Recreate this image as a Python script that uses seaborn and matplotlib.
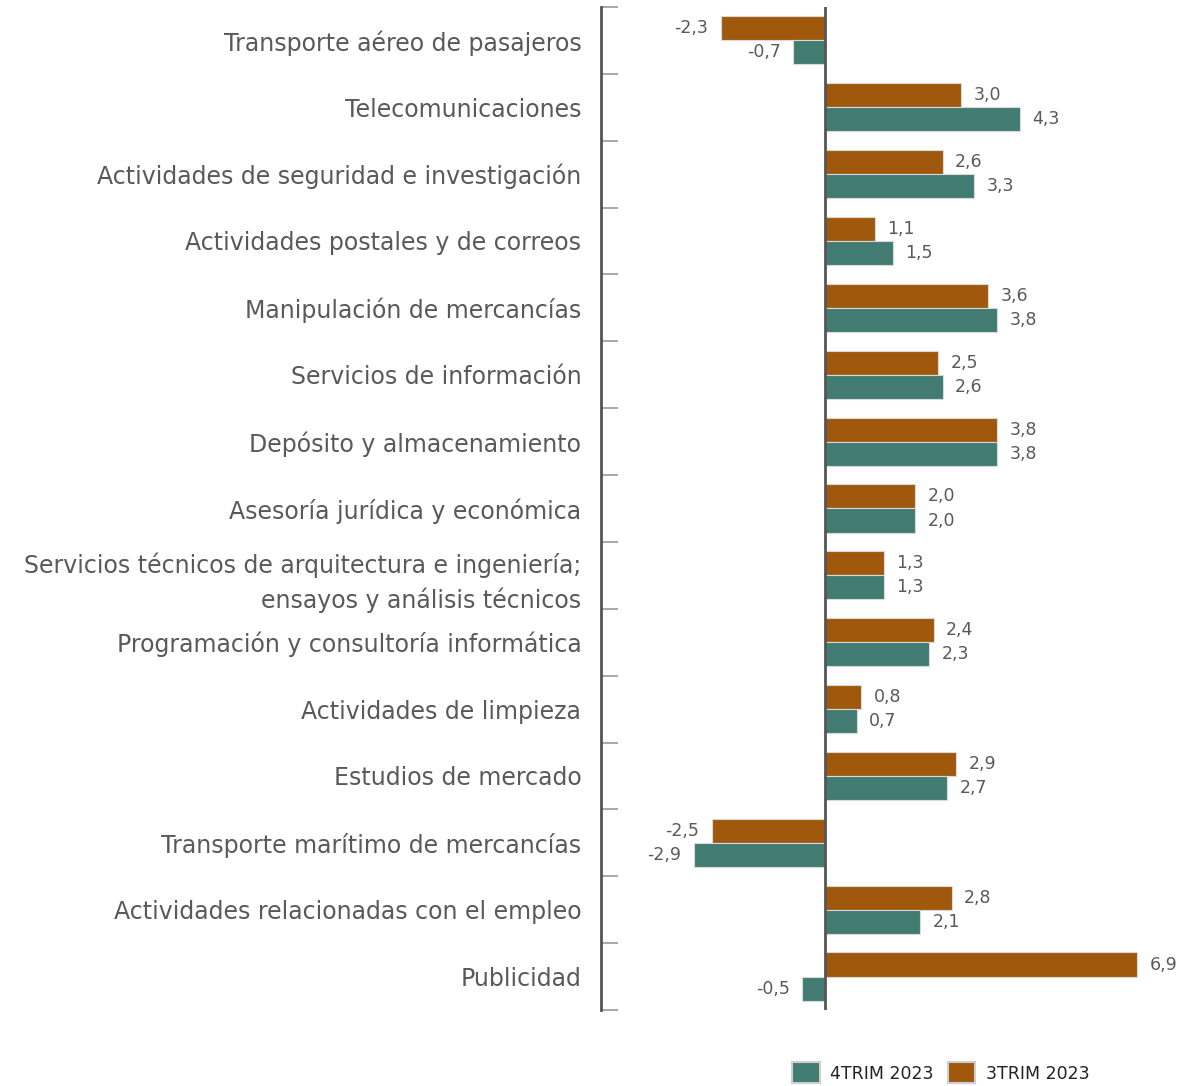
import matplotlib
matplotlib.use("Agg")
import matplotlib.pyplot as plt
import numpy as np
import pandas as pd
import seaborn as sns
from matplotlib.patches import Patch

categorias = [
    "Transporte aéreo de pasajeros",
    "Telecomunicaciones",
    "Actividades de seguridad e investigación",
    "Actividades postales y de correos",
    "Manipulación de mercancías",
    "Servicios de información",
    "Depósito y almacenamiento",
    "Asesoría jurídica y económica",
    "Servicios técnicos de arquitectura e ingeniería;\nensayos y análisis técnicos",
    "Programación y consultoría informática",
    "Actividades de limpieza",
    "Estudios de mercado",
    "Transporte marítimo de mercancías",
    "Actividades relacionadas con el empleo",
    "Publicidad",
]
trim3_2023 = [-2.3, 3.0, 2.6, 1.1, 3.6, 2.5, 3.8, 2.0, 1.3, 2.4, 0.8, 2.9, -2.5, 2.8, 6.9]
trim4_2023 = [-0.7, 4.3, 3.3, 1.5, 3.8, 2.6, 3.8, 2.0, 1.3, 2.3, 0.7, 2.7, -2.9, 2.1, -0.5]
periodos = ["3TRIM 2023", "4TRIM 2023"]

colores = {"3TRIM 2023": "#A0590C", "4TRIM 2023": "#417B72"}
gris = "#595959"

df = pd.DataFrame({
    "categoria": categorias * 2,
    "valor": trim3_2023 + trim4_2023,
    "periodo": [periodos[0]] * len(categorias) + [periodos[1]] * len(categorias),
})

sns.set_theme(style="white")
plt.rcParams["font.family"] = ["DejaVu Sans"]

fig = plt.figure(figsize=(11.78, 10.86), dpi=100)
ax = fig.add_axes([0.510, 0.070, 0.490, 0.9236])

sns.barplot(data=df, y="categoria", x="valor", hue="periodo", hue_order=periodos,
            order=categorias, orient="h", palette=colores, saturation=1, width=0.72,
            edgecolor="#d9d9d9", linewidth=0.8, ax=ax, legend=False)

for cont in ax.containers:
    labels = [f"{v:.1f}".replace(".", ",") for v in cont.datavalues]
    ax.bar_label(cont, labels=labels, padding=9, fontsize=12.5, color=gris)

ax.set_xlim(-4.95, 7.8)
ax.set_ylim(len(categorias) - 0.5, -0.5)
ax.axvline(0, color="#555555", lw=2, zorder=3)

ax.set_xlabel("")
ax.set_ylabel("")
ax.set_xticks([])
ax.tick_params(axis="y", which="major", length=0, pad=14, labelsize=17, labelcolor=gris)
for t in ax.get_yticklabels():
    t.set_horizontalalignment("right")
    t.set_multialignment("right")
    t.set_linespacing(1.45)
    t.set_y(t.get_position()[1])
ax.set_yticks(np.arange(-0.5, len(categorias), 1.0), minor=True)
ax.tick_params(axis="y", which="minor", direction="in", length=12, width=1.2,
               color="#9a9a9a", left=True)

for s in ["top", "right", "bottom"]:
    ax.spines[s].set_visible(False)
ax.spines["left"].set_color("#555555")
ax.spines["left"].set_linewidth(2)

handles = [Patch(facecolor=colores["4TRIM 2023"], edgecolor="#cfcfcf", lw=1.5, label="4TRIM 2023"),
           Patch(facecolor=colores["3TRIM 2023"], edgecolor="#cfcfcf", lw=1.5, label="3TRIM 2023")]
fig.legend(handles=handles, loc="lower right", bbox_to_anchor=(0.938, -0.012), ncol=2,
           frameon=False, fontsize=12.5, handlelength=1.6, handleheight=1.5,
           handletextpad=0.6, columnspacing=0.8, labelcolor="#222222")

fig.savefig("out.png", dpi=100)
